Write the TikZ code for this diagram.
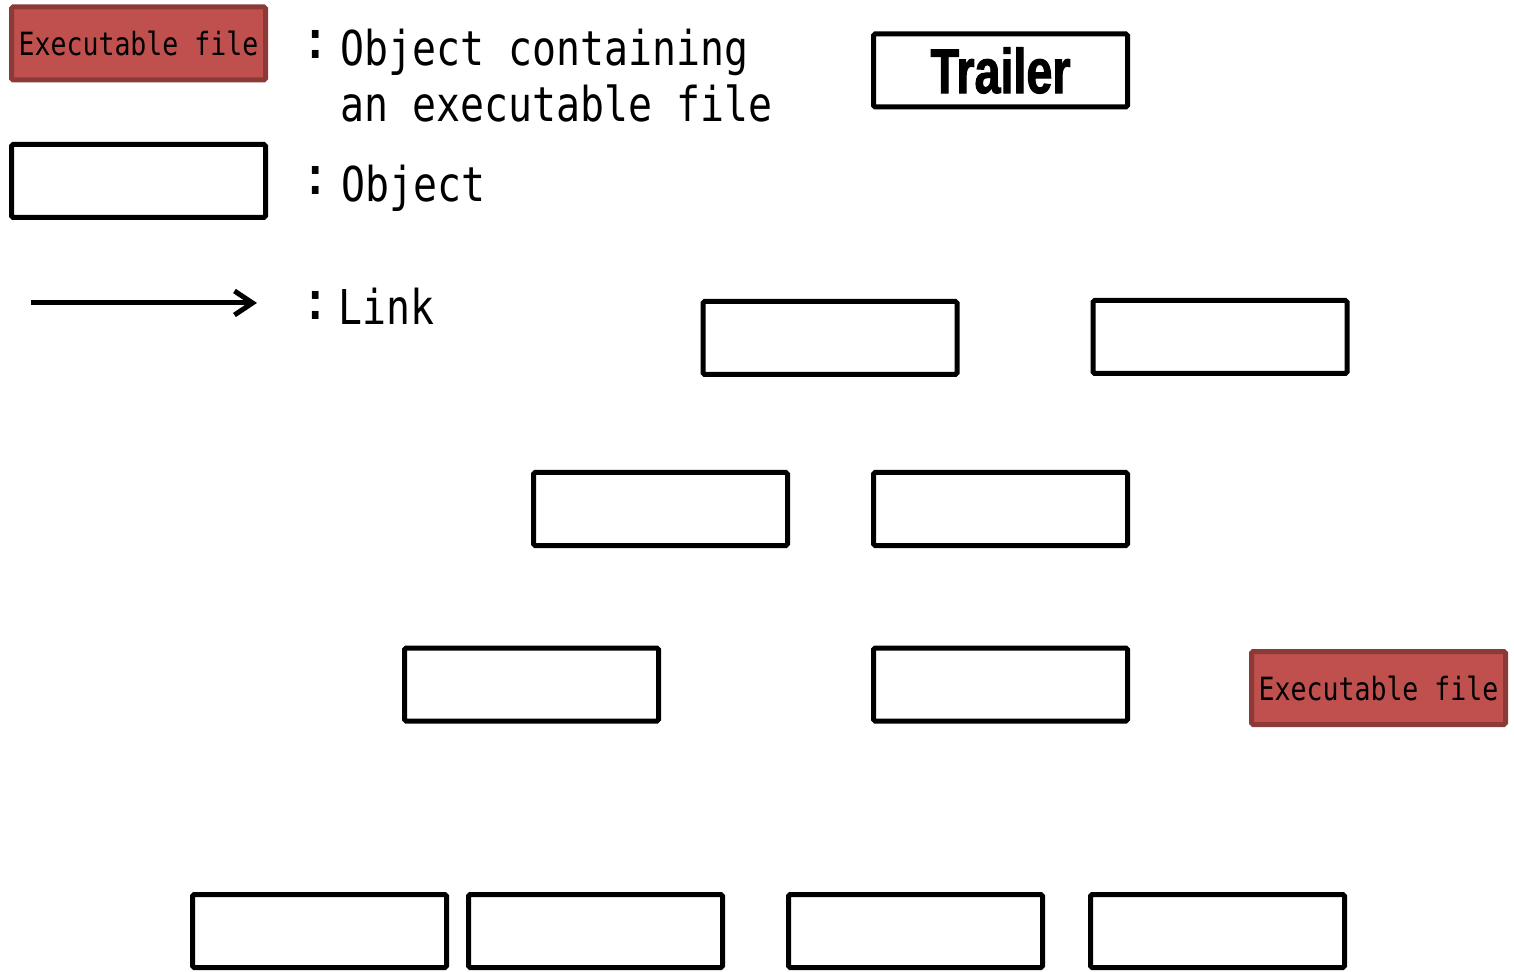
\documentclass[tikz,border=0pt]{standalone}
\usepackage{fontspec}
\usetikzlibrary{arrows.meta}
\newfontfamily\legendfont[FakeStretch=0.83]{DejaVu Sans Mono}
\newfontfamily\colonfont{DejaVu Sans Mono}
\newfontfamily\trailerfont[FakeStretch=0.74,FakeBold=1.6]{Liberation Sans}
\definecolor{execfill}{HTML}{C0504D}
\definecolor{execedge}{HTML}{8C3A38}
\begin{document}
\begin{tikzpicture}[x=0.5pt,y=-0.5pt,
  objbox/.style={draw=black,line width=2.5pt,rounded corners=0.8pt,fill=white,
    minimum width=127pt,minimum height=36.5pt,inner sep=0pt},
  execbox/.style={objbox,draw=execedge,fill=execfill,
    font=\legendfont\fontsize{16}{18}\selectfont},
  legendtext/.style={anchor=base west,inner sep=0pt,
    font=\legendfont\fontsize{24}{28}\selectfont},
  colon/.style={anchor=base,inner sep=0pt,
    font=\colonfont\fontsize{27}{30}\selectfont},
  link/.style={line width=2.5pt,-{Straight Barb[length=9pt,width=12pt,line width=2.5pt]}}]
\useasboundingbox (0,0) rectangle (1514,972);

% legend
\node[execbox] (legexec) at (138.5,43.5) {Executable file};
\node[objbox] (legobj) at (138.5,181) {};
\coordinate (linkstart) at (31,303);
\coordinate (linkend) at (257,303);
\draw[link] (linkstart) -- (linkend);

\node[colon] (c1) at (316,59) {:};
\node[legendtext] (t1) at (340,66) {Object containing};
\node[legendtext] (t2) at (340,122) {an executable file};
\node[colon] (c2) at (316,195) {:};
\node[legendtext] (t3) at (341,202) {Object};
\node[colon] (c3) at (316,320) {:};
\node[legendtext] (t4) at (338,325) {Link};

% trailer
\node[objbox,font=\trailerfont\bfseries\fontsize{31.5}{36}\selectfont] (trailer) at (1000.5,70.5) {Trailer};

% objects
\node[objbox] (o11) at (830,338) {};
\node[objbox] (o12) at (1220,337) {};
\node[objbox] (o21) at (660.5,509) {};
\node[objbox] (o22) at (1000.5,509) {};
\node[objbox] (o31) at (531.5,684.5) {};
\node[objbox] (o32) at (1000.5,684.5) {};
\node[execbox] (exe) at (1378.5,688) {Executable file};
\node[objbox] (o41) at (319.5,931) {};
\node[objbox] (o42) at (595.5,931) {};
\node[objbox] (o43) at (915.5,931) {};
\node[objbox] (o44) at (1217.5,931) {};
\end{tikzpicture}
\end{document}
